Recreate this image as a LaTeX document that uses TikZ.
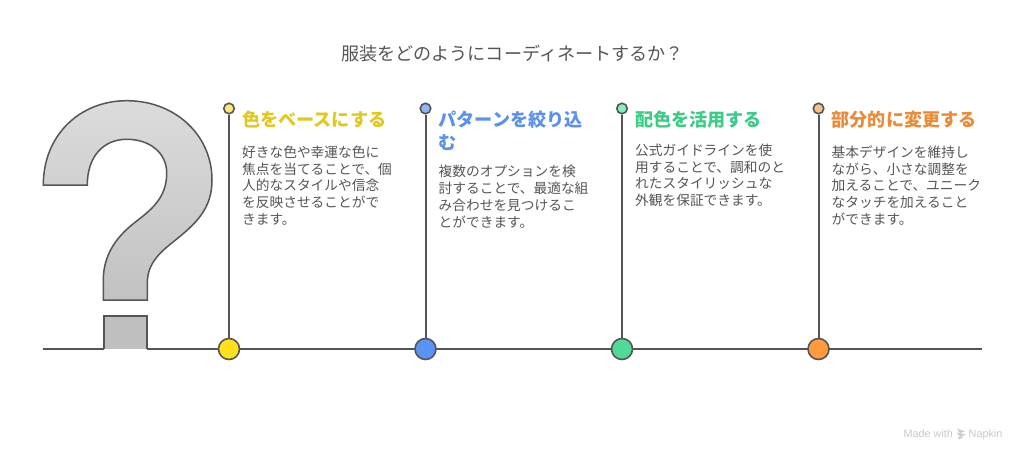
\documentclass[tikz,border=0pt]{standalone}
\usepackage{fontspec}
\setmainfont{Noto Sans CJK JP}
\newfontfamily\latinfont{Liberation Sans}
\begin{document}
\begin{tikzpicture}[x=1pt,y=-1pt,
  linecol/.style={draw=ink,line width=2pt},
  bigdot/.style={circle,draw=ink,line width=1.6pt,minimum size=21pt,inner sep=0pt},
  smalldot/.style={circle,draw=ink,line width=1.6pt,minimum size=10.5pt,inner sep=0pt},
  headtext/.style={anchor=north west,inner sep=0pt,align=left,font=\fontsize{18.1}{23}\selectfont\bfseries},
  bodytext/.style={anchor=north west,inner sep=0pt,align=left,text=ink,font=\fontsize{13.7}{16.8}\selectfont},
  wmtext/.style={anchor=base west,inner sep=0pt,text=wm,font=\latinfont\fontsize{10.8}{12}\selectfont},
]
\definecolor{ink}{HTML}{555555}
\definecolor{wm}{HTML}{C9C9C9}
\definecolor{yA}{HTML}{FFE01B}\definecolor{yB}{HTML}{FFE873}\definecolor{yH}{HTML}{E3C81C}
\definecolor{bA}{HTML}{5B93F5}\definecolor{bB}{HTML}{90B6F7}\definecolor{bH}{HTML}{5B90EC}
\definecolor{gA}{HTML}{4FDB96}\definecolor{gB}{HTML}{86EDBB}\definecolor{gH}{HTML}{3DCB88}
\definecolor{oA}{HTML}{FF9A3D}\definecolor{oB}{HTML}{FFBE85}\definecolor{oH}{HTML}{EB8B36}
\useasboundingbox (0,0) rectangle (1024,458);
\fill[white] (0,0) rectangle (1024,458);

\node[anchor=center,inner sep=0pt,text=ink,font=\fontsize{18.1}{22}\selectfont] (title) at (512.5,54) {服装をどのようにコーディネートするか？};

% question mark
\draw[draw=ink,line width=1.5pt,line join=miter,top color=black!14,bottom color=black!24,shading angle=0]
 (43.3,185) .. controls (43.3,135) and (80,100.7) .. (126.7,100.7)
 .. controls (175,100.7) and (212,135) .. (212,180)
 .. controls (212,205) and (200,219) .. (184,233)
 .. controls (168,247) and (147.3,258) .. (147.3,283)
 -- (147.3,300) -- (103.3,300) -- (103.3,280)
 .. controls (103.3,250) and (122,232) .. (138,220)
 .. controls (155,207) and (166.7,195) .. (166.7,173)
 .. controls (166.7,153) and (150,139.3) .. (126.7,139.3)
 .. controls (103,139.3) and (87.3,157) .. (87.3,185) -- cycle;
\coordinate (ql) at (103.8,349);
\coordinate (qr) at (147,349);
\fill[black!25] (ql) rectangle (147,316);
\draw[draw=ink,line width=1.5pt] (ql) -- (103.8,316) -- (147,316) -- (qr);

% baseline
\coordinate (bs) at (43,349);
\coordinate (be) at (982,349);
\draw[linecol] (bs) -- (ql);
\draw[linecol] (qr) -- (be);

\node[smalldot,fill=yB] (s1) at (229,108.5) {};
\node[smalldot,fill=bB] (s2) at (425.5,108.5) {};
\node[smalldot,fill=gB] (s3) at (622,108.5) {};
\node[smalldot,fill=oB] (s4) at (818.5,108.5) {};
\node[bigdot,fill=yA] (b1) at (229,349) {};
\node[bigdot,fill=bA] (b2) at (425.5,349) {};
\node[bigdot,fill=gA] (b3) at (622,349) {};
\node[bigdot,fill=oA] (b4) at (818.5,349) {};
\draw[linecol] (s1) -- (b1);
\draw[linecol] (s2) -- (b2);
\draw[linecol] (s3) -- (b3);
\draw[linecol] (s4) -- (b4);

\node[headtext,text=yH] (h1) at (242,110.5) {色をベースにする};
\node[headtext,text=bH] (h2) at (438.5,110.5) {パターンを絞り込\\む};
\node[headtext,text=gH] (h3) at (635,110.5) {配色を活用する};
\node[headtext,text=oH] (h4) at (831.5,110.5) {部分的に変更する};

\node[bodytext] (t1) at (242,145.5) {好きな色や幸運な色に\\焦点を当てることで、個\\人的なスタイルや信念\\を反映させることがで\\きます。};
\node[bodytext] (t2) at (438.5,165) {複数のオプションを検\\討することで、最適な組\\み合わせを見つけるこ\\とができます。};
\node[bodytext] (t3) at (635,143.5) {公式ガイドラインを使\\用することで、調和のと\\れたスタイリッシュな\\外観を保証できます。};
\node[bodytext] (t4) at (831.5,145.5) {基本デザインを維持し\\ながら、小さな調整を\\加えることで、ユニーク\\なタッチを加えること\\ができます。};

% watermark
\node[wmtext] (wm1) at (903.5,437) {Made with};
\fill[wm] (957,428.5) -- (965,431.5) -- (960,433) -- cycle
          (956.5,432.5) -- (966,434.5) -- (960,436.5) -- cycle
          (958,437) -- (964,436.5) -- (959,439.5) -- cycle;
\node[wmtext] (wm2) at (968.5,437) {Napkin};
\end{tikzpicture}
\end{document}
